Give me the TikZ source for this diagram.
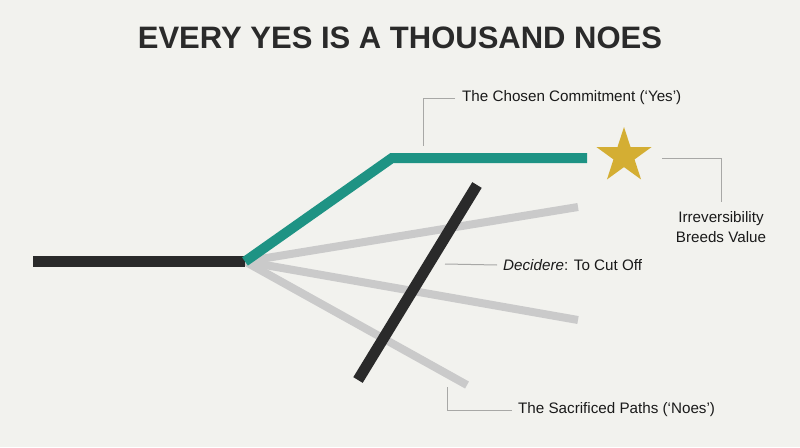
\documentclass[tikz,border=0pt]{standalone}
\usepackage{fontspec}
\setmainfont{Liberation Sans}
\usetikzlibrary{shapes.geometric}
\definecolor{bgc}{HTML}{F2F2EE}
\definecolor{tealc}{HTML}{1E9384}
\definecolor{darkc}{HTML}{2A2A2A}
\definecolor{grayc}{HTML}{CACACA}
\definecolor{leadc}{HTML}{A8A8A6}
\definecolor{goldc}{HTML}{D4AE33}
\definecolor{txtc}{HTML}{1A1A1A}
\tikzset{
  path/.style={line width=8pt, draw=grayc},
  leader/.style={draw=leadc, line width=1pt},
  lbl/.style={inner sep=0pt, text=txtc, font=\fontsize{15.2}{20}\selectfont},
}
\begin{document}
\begin{tikzpicture}[x=1pt,y=-1pt]
\fill[bgc] (0,0) rectangle (800,447);
\useasboundingbox (0,0) rectangle (800,447);
% title
\node[inner sep=0pt, text=darkc, font=\fontsize{31}{36}\bfseries\selectfont] (title) at (400,38) {EVERY YES IS A THOUSAND NOES};
% coordinates
\coordinate (start) at (33,261.5);
\coordinate (fork) at (245,261.5);
\coordinate (bend) at (392,158);
\coordinate (yesend) at (587,158);
\coordinate (g1) at (578,207);
\coordinate (g2) at (578,320);
\coordinate (g3) at (467,385);
\coordinate (cutA) at (358,380);
\coordinate (cutB) at (477,185);
% gray sacrificed paths
\draw[path] (fork) -- (g1);
\draw[path] (fork) -- (g2);
\draw[path] (fork) -- (g3);
% past
\draw[line width=10.5pt, draw=darkc] (start) -- (fork);
% chosen
\draw[line width=10pt, draw=tealc, line join=miter] (fork) -- (bend) -- (yesend);
% cut
\draw[line width=11pt, draw=darkc] (cutA) -- (cutB);
% star
\node[star, star points=5, star point ratio=2.618, minimum size=58pt, inner sep=0pt, fill=goldc] (star) at (624,156) {};
% labels
\node[lbl, anchor=west] (chosen) at (462,98) {The Chosen Commitment (‘Yes’)};
\node[lbl, align=center] (irrev) at (721,227) {Irreversibility\\Breeds Value};
\node[lbl, anchor=west] (decid) at (503,265) {\textit{Decidere}: To Cut Off};
\node[lbl, anchor=west] (sacr) at (518,410) {The Sacrificed Paths (‘Noes’)};
% leader lines
\coordinate (c1) at (423,146);
\coordinate (s1) at (662,158);
\coordinate (s2) at (721,202);
\coordinate (d1) at (445,264);
\coordinate (p1) at (447,387);
\draw[leader] ([xshift=-7pt]chosen.west) -- (c1 |- chosen.west) -- (c1);
\draw[leader] (s1) -- (s2 |- s1) -- (s2);
\draw[leader] (d1) -- ([xshift=-6pt]decid.west);
\draw[leader] (p1) -- (p1 |- sacr.west) -- ([xshift=-6pt]sacr.west);
\end{tikzpicture}
\end{document}
